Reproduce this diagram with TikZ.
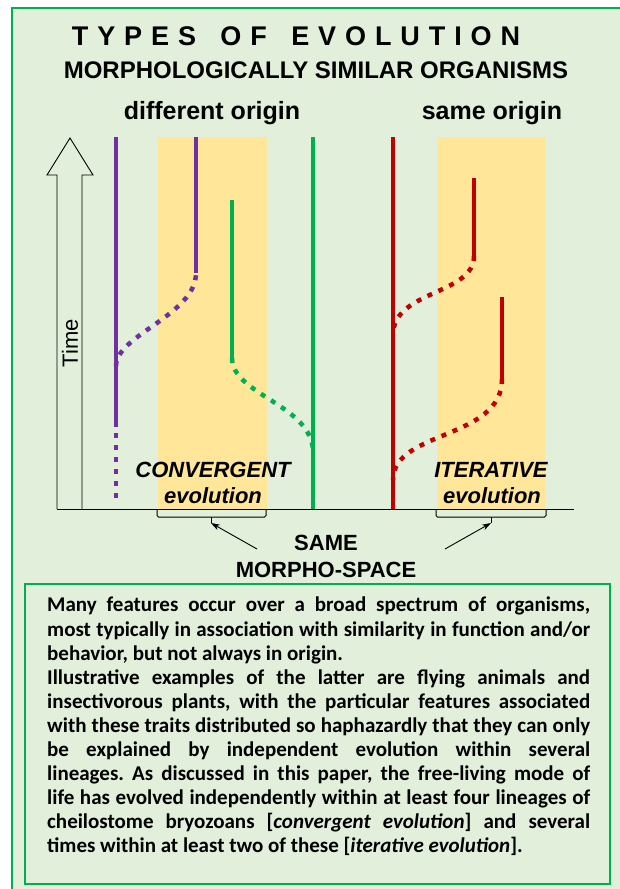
\documentclass[tikz,border=0pt]{standalone}
\usepackage{fontspec}
\setmainfont{Liberation Sans}
\newfontfamily\bodyfont{Carlito}
\usetikzlibrary{arrows.meta}
\frenchspacing
\definecolor{bggreen}{HTML}{E2EFDA}
\definecolor{framegreen}{HTML}{00B050}
\definecolor{spaceyellow}{HTML}{FFE699}
\definecolor{lpurple}{HTML}{7030A0}
\definecolor{lgreen}{HTML}{00B050}
\definecolor{lred}{HTML}{C00000}
\tikzset{
  lineage/.style={line width=4.5pt},
  ghost/.style={line width=4.5pt, dash pattern=on 5pt off 7pt},
  headtext/.style={inner sep=0pt, anchor=base, font=\bfseries\fontsize{25}{30}\selectfont},
  evotext/.style={inner sep=0pt, anchor=base, font=\bfseries\itshape\fontsize{22}{26}\selectfont},
  spacetext/.style={inner sep=0pt, anchor=base, font=\bfseries\fontsize{22}{26}\selectfont},
  bracket/.style={line width=1pt, rounded corners=1.5pt},
  pointer/.style={line width=0.9pt, -{Stealth[length=9pt,width=6pt]}},
}
\newcommand{\jline}[1]{\makebox[543pt][s]{#1}}
\newcommand{\wgap}{\ \hspace{8pt}}
\begin{document}
\begin{tikzpicture}[x=1pt,y=-1pt]
	\useasboundingbox (0,0) rectangle (619,889);
	\fill[white] (0,0) rectangle (619,889);
	\draw[framegreen, line width=2pt, fill=bggreen] (12,8) rectangle (622,895);
	% titles
	\node[inner sep=0pt, anchor=base, font={\bfseries\addfontfeatures{LetterSpace=33}\fontsize{27}{32}\selectfont}] (title) at (296,45) {TYPES\wgap OF\wgap EVOLUTION};
	\node[headtext, font={\bfseries\fontsize{24}{30}\selectfont}] (similar) at (316,78) {MORPHOLOGICALLY SIMILAR ORGANISMS};
	\node[headtext] (diff) at (212,119) {different origin};
	\node[headtext] (same) at (492,119) {same origin};
	% morpho-spaces
	\fill[spaceyellow] (158,137) rectangle (267,509);
	\fill[spaceyellow] (437,137) rectangle (545,509);
	% time axis
	\draw[line width=0.9pt, fill=bggreen] (57,509) -- (57,175) -- (47,175) -- (70,138) -- (93,175) -- (82,175) -- (82,509);
	\node[rotate=90, inner sep=0pt, font=\fontsize{22}{26}\selectfont] (time) at (70,343) {Time};
	% lineages: different origin
	\draw[lineage, lpurple] (116,137) -- (116,427);
	\draw[ghost, lpurple] (116,433) -- (116,502);
	\draw[ghost, lpurple] (116,366) .. controls (116,335) and (196,315) .. (196,273);
	\draw[lineage, lpurple] (196,137) -- (196,273);
	\draw[lineage, lgreen] (313,137) -- (313,509);
	\draw[lineage, lgreen] (232,200) -- (232,358);
	\draw[ghost, lgreen] (232,358) .. controls (232,395) and (313,405) .. (313,452);
	% lineages: same origin
	\draw[lineage, lred] (393,137) -- (393,509);
	\draw[lineage, lred] (474,178) -- (474,256);
	\draw[ghost, lred] (474,256) .. controls (474,295) and (393,290) .. (393,335);
	\draw[lineage, lred] (502,297) -- (502,379);
	\draw[ghost, lred] (502,379) .. controls (502,440) and (393,430) .. (393,480);
	% baseline
	\draw[line width=1pt] (57,509) -- (574,509);
	\node[evotext] (conv) at (213,477) {CONVERGENT};
	\node[evotext] (convevo) at (213,503) {evolution};
	\node[evotext] (iter) at (491,477) {ITERATIVE};
	\node[evotext] (iterevo) at (492,503) {evolution};
	% brackets
	\draw[bracket] (157,509) -- (157,517) -- (266,517) -- (266,509);
	\draw[bracket] (436,509) -- (436,517) -- (546,517) -- (546,509);
	\coordinate (convtip) at (211,523);
	\coordinate (itertip) at (491,523);
	\draw[line width=1pt] (211,517) -- (convtip);
	\draw[line width=1pt] (491,517) -- (itertip);
	\node[spacetext] (samespace) at (326,550) {SAME};
	\node[spacetext] (morpho) at (326,577) {MORPHO-SPACE};
	\coordinate (convtail) at (257,549);
	\coordinate (itertail) at (445,549);
	\draw[pointer] (convtail) -- (convtip);
	\draw[pointer] (itertail) -- (itertip);
	% text box
	\draw[framegreen, line width=1.5pt, fill=bggreen] (25,584) rectangle (610,884);
	\node[anchor=north west, inner sep=0pt, align=left, font={\bodyfont\bfseries\fontsize{21}{24.1}\selectfont}] (note) at (47,597) {%
	\jline{Many features occur over a broad spectrum of organisms,}\\
	\jline{most typically in association with similarity in function and/or}\\
	behavior, but not always in origin.\\
	\jline{Illustrative examples of the latter are flying animals and}\\
	\jline{insectivorous plants, with the particular features associated}\\
	\jline{with these traits distributed so haphazardly that they can only}\\
	\jline{be explained by independent evolution within several}\\
	\jline{lineages. As discussed in this paper, the free-living mode of}\\
	\jline{life has evolved independently within at least four lineages of}\\
	\jline{cheilostome bryozoans [\textit{convergent evolution}] and several}\\
	times within at least two of these [\textit{iterative evolution}].};
\end{tikzpicture}
\end{document}
